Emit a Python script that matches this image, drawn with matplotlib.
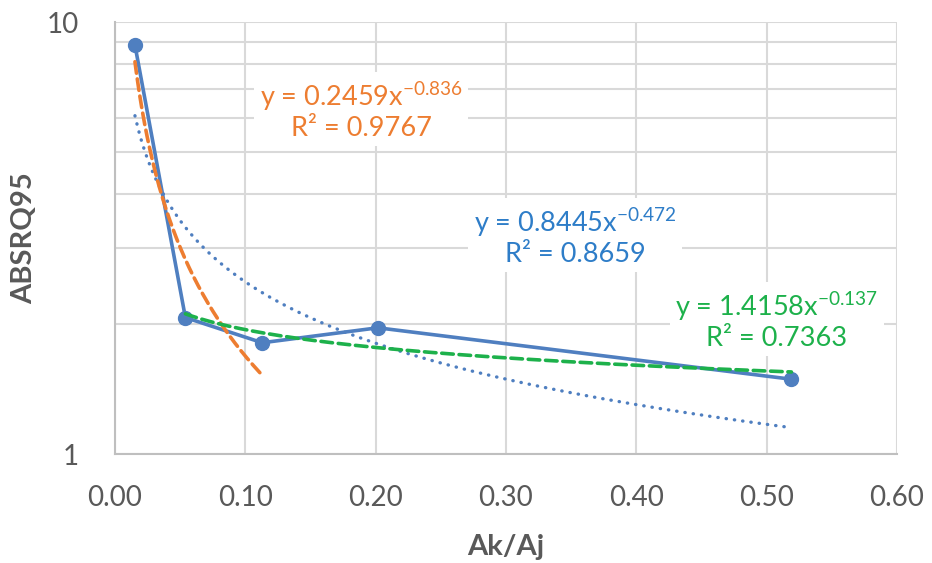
import matplotlib
matplotlib.use("Agg")
import matplotlib.pyplot as plt
from matplotlib.ticker import FixedLocator, NullFormatter
import numpy as np

# measured points
ak_aj = [0.0153, 0.054, 0.113, 0.2017, 0.519]
absrq95 = [8.85, 2.07, 1.81, 1.96, 1.49]

# power trendlines: (coef, exponent, first idx, last idx, label)
fit_all = (0.8445, -0.472, 0, 4, "y = 0.8445x$^{\\mathregular{-0.472}}$\nR² = 0.8659")
fit_low = (0.2459, -0.836, 0, 2, "y = 0.2459x$^{\\mathregular{-0.836}}$\nR² = 0.9767")
fit_high = (1.4158, -0.137, 1, 4, "y = 1.4158x$^{\\mathregular{-0.137}}$\nR² = 0.7363")

plt.rcParams['font.family'] = ['Lato', 'DejaVu Sans']

BLUE = "#4F7FC0"
ORANGE = "#ED7D31"
GREEN = "#1DB14B"
GRAY = "#595959"

fig = plt.figure(figsize=(9.32, 5.63), dpi=100)
ax = fig.add_axes([0.1234, 0.1936, 0.839, 0.767])

ax.plot(ak_aj, absrq95, color=BLUE, lw=2.6, marker="o", ms=10, zorder=3)


def trend(fit, color, style, lw):
    a, b, i0, i1, _ = fit
    xs = np.linspace(ak_aj[i0], ak_aj[i1], 200)
    ax.plot(xs, a * xs ** b, color=color, ls=style, lw=lw,
            dash_capstyle="round", zorder=4)


trend(fit_all, BLUE, (0, (0.1, 2.4)), 2.4)
trend(fit_low, ORANGE, (0, (3.2, 1.6)), 2.6)
trend(fit_high, GREEN, (0, (3.2, 1.6)), 2.6)

box = dict(boxstyle="square,pad=0.2", fc="white", ec="none")
ax.text(0.189, 6.25, fit_low[4], color=ORANGE, fontsize=19.5, ha="center",
        va="center", multialignment="center", linespacing=1.15, bbox=box, zorder=5)
ax.text(0.353, 3.2, fit_all[4], color="#2E7DC8", fontsize=19.5, ha="center",
        va="center", multialignment="center", linespacing=1.15, bbox=box, zorder=5)
ax.text(0.508, 2.04, fit_high[4], color=GREEN, fontsize=19.5, ha="center",
        va="center", multialignment="center", linespacing=1.15, bbox=box, zorder=5)

ax.set_yscale("log")
ax.set_ylim(1, 10)
ax.set_xlim(0, 0.6)
ax.set_xticks(np.arange(0, 0.61, 0.1))
ax.set_xticklabels([f"{v:.2f}" for v in np.arange(0, 0.61, 0.1)])
ax.yaxis.set_major_locator(FixedLocator([1, 10]))
ax.yaxis.set_minor_locator(FixedLocator(range(2, 10)))
ax.yaxis.set_minor_formatter(NullFormatter())
ax.set_yticklabels(["1", "10"])

ax.grid(True, which="both", color="#D9D9D9", lw=1.5)
ax.set_axisbelow(True)
for s in ax.spines.values():
    s.set_visible(False)
ax.spines["left"].set_visible(True)
ax.spines["bottom"].set_visible(True)
ax.spines["left"].set_color("#BFBFBF")
ax.spines["bottom"].set_color("#BFBFBF")
ax.spines["left"].set_linewidth(1.5)
ax.spines["bottom"].set_linewidth(1.5)
ax.tick_params(which="both", length=0, colors=GRAY, labelsize=20, pad=22)
ax.tick_params(axis="y", pad=26)

ax.set_xlabel("Ak/Aj", fontsize=21, fontweight="bold", color=GRAY)
ax.set_ylabel("ABSRQ95", fontsize=21, fontweight="bold", color=GRAY)
ax.xaxis.set_label_coords(0.5, -0.185)
ax.yaxis.set_label_coords(-0.099, 0.5)

fig.savefig("out.png", dpi=100)
